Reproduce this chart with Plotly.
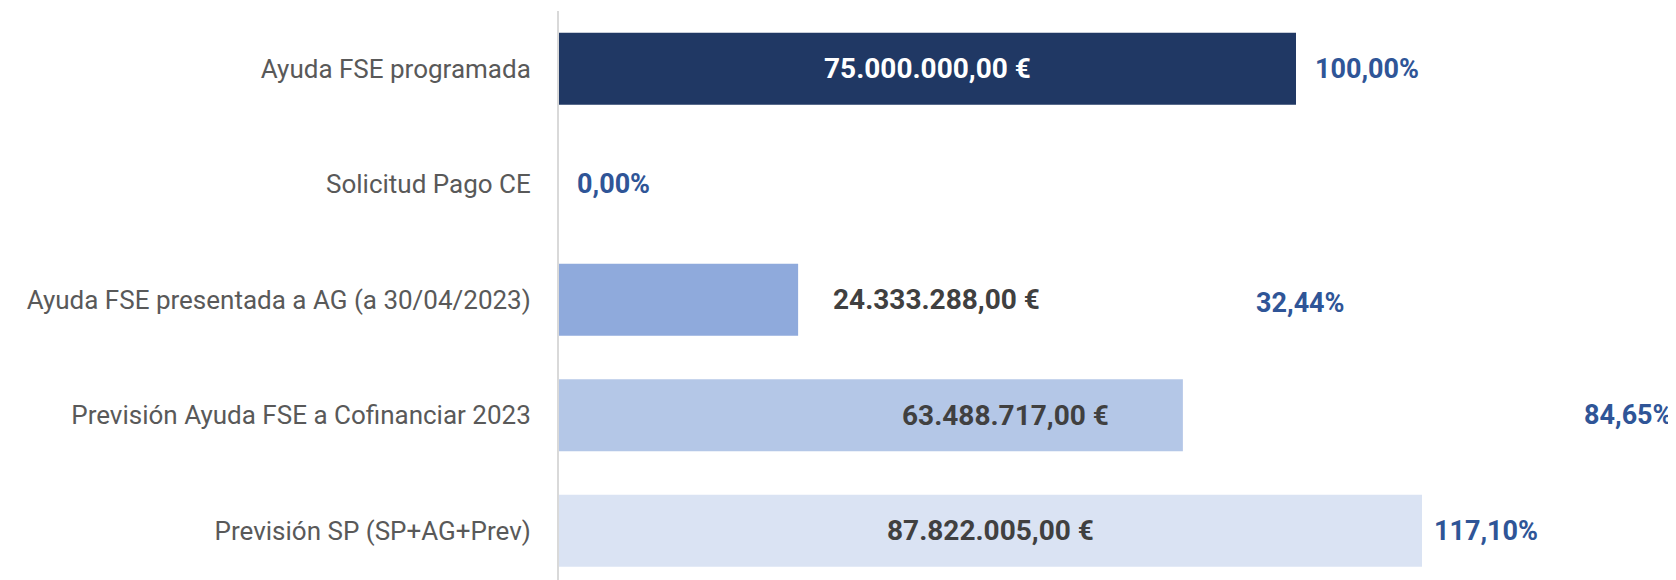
import plotly.graph_objects as go

# ---- data ----
categories = [
    "Ayuda FSE programada",
    "Solicitud Pago CE",
    "Ayuda FSE presentada a AG (a 30/04/2023)",
    "Previsión Ayuda FSE a Cofinanciar 2023",
    "Previsión SP (SP+AG+Prev)",
]
values = [75000000.00, 0.0, 24333288.00, 63488717.00, 87822005.00]
value_labels = ["75.000.000,00 €", "", "24.333.288,00 €", "63.488.717,00 €", "87.822.005,00 €"]
pct_labels = ["100,00%", "0,00%", "32,44%", "84,65%", "117,10%"]

# ---- style ----
bar_colors = ["#203864", "#203864", "#8FAADC", "#B4C7E7", "#DAE3F3"]
value_colors = ["#FFFFFF", "#404040", "#404040", "#404040", "#404040"]
# value label placement: (anchor mode, pixel shift)
value_modes = ["center", "center", "outside", "center", "center"]
value_shifts = [0, 0, 33, 135, 0]
pct_shifts = [17, 16, 456, 399, 10]
pct_yshifts = [0, 0, -3, 0, 0]

FONT = "Roboto, Liberation Sans, sans-serif"

fig = go.Figure()
fig.add_trace(go.Bar(
    y=categories, x=values, orientation="h",
    marker=dict(color=bar_colors, line=dict(width=0)),
    hoverinfo="skip",
))

annotations = []
for i, (cat, v) in enumerate(zip(categories, values)):
    if value_labels[i]:
        if value_modes[i] == "center":
            ax, anchor = v / 2, "center"
        else:
            ax, anchor = v, "left"
        annotations.append(dict(
            x=ax, y=cat, xref="x", yref="y", text="<b>" + value_labels[i] + "</b>",
            showarrow=False, xanchor=anchor, yanchor="middle",
            xshift=value_shifts[i],
            font=dict(family=FONT, size=28, color=value_colors[i]),
        ))
    annotations.append(dict(
        x=v, y=cat, xref="x", yref="y", text="<b>" + pct_labels[i] + "</b>",
        showarrow=False, xanchor="left", yanchor="middle",
        xshift=pct_shifts[i], yshift=pct_yshifts[i],
        font=dict(family=FONT, size=27, color="#2F5597"),
    ))

fig.update_layout(
    width=1668, height=572,
    margin=dict(l=551, r=0, t=3, b=0),
    paper_bgcolor="white", plot_bgcolor="white",
    showlegend=False,
    bargap=0.377,
    annotations=annotations,
    xaxis=dict(range=[0, 113.67e6], visible=False, showgrid=False, zeroline=False),
    yaxis=dict(
        type="category", range=[4.426, -0.5],
        showline=True, linecolor="#D9D9D9", linewidth=2,
        showgrid=False, zeroline=False, ticks="",
        ticklabelstandoff=21,
        tickfont=dict(family=FONT, size=26, color="#595959"),
        automargin=False,
    ),
)

fig.write_html("out.html")
